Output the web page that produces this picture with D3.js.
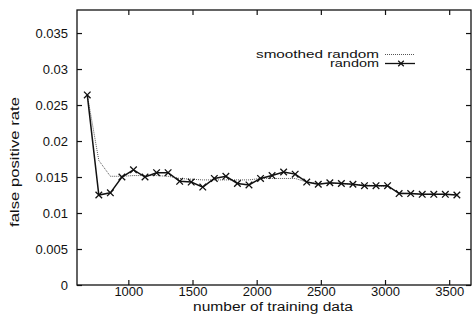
<!DOCTYPE html>
<html>
<head>
<meta charset="utf-8">
<script src="https://cdn.jsdelivr.net/npm/d3@7"></script>
<style>
    body { margin: 0; background: #fff; }
    text { font-family: "Liberation Sans", Arial, sans-serif; fill: #111; }
</style>
</head>
<body>
<div id="center" style="width:472px;height:332px"></div>
<script>
// training sizes (step of 90)
let sizes = [680, 770, 860, 950, 1040, 1130, 1220, 1310, 1400, 1490, 1580,
    1670, 1760, 1850, 1940, 2030, 2120, 2210, 2300, 2390, 2480, 2570,
    2660, 2750, 2840, 2930, 3020, 3110, 3200, 3290, 3380, 3470, 3560];
let randomRate = [0.0264, 0.0125, 0.0128, 0.0150, 0.0160, 0.0150, 0.0156, 0.0156,
    0.0144, 0.0143, 0.0136, 0.0148, 0.0151, 0.0141, 0.0139, 0.0148, 0.0152,
    0.0157, 0.0154, 0.0143, 0.0140, 0.0142, 0.0141, 0.0140, 0.0138, 0.0138,
    0.0138, 0.0127, 0.0127, 0.0126, 0.0126, 0.0126, 0.0125];
let smoothedRate = [0.0264, 0.0173, 0.0151, 0.0151, 0.0152, 0.0152, 0.0152, 0.0151,
    0.0148, 0.0147, 0.0146, 0.0146, 0.0146, 0.0146, 0.0146, 0.0148, 0.0148,
    0.0148, 0.0148, 0.0143, 0.0141, 0.0141, 0.0141, 0.0140, 0.0139, 0.0138,
    0.0137, 0.0128, 0.0127, 0.0126, 0.0126, 0.0126, 0.0125];
let xTicks = [1000, 1500, 2000, 2500, 3000, 3500];
let yTicks = [0, 0.005, 0.01, 0.015, 0.02, 0.025, 0.03, 0.035];
let yTickLabels = ["0", "0.005", "0.01", "0.015", "0.02", "0.025", "0.03", "0.035"];
let legendNames = ["smoothed random", "random"];

let width = 472, height = 332;
let mLeft = 77, mRight = 471, mTop = 10, mBottom = 285;

const svg = d3.select("#center").append("svg")
    .attr("width", width)
    .attr("height", height)

let x = d3.scaleLinear().domain([600, 3670]).range([mLeft, mRight]);
let y = d3.scaleLinear().domain([0, 0.0382]).range([mBottom, mTop]);

// inward ticks on all four sides, like gnuplot
let axisB = d3.axisBottom(x).tickValues(xTicks).tickSize(-5).tickPadding(2).tickFormat(d3.format("d"));
let axisT = d3.axisTop(x).tickValues(xTicks).tickSize(-5).tickFormat("");
let axisL = d3.axisLeft(y).tickValues(yTicks).tickSize(-5).tickPadding(9)
    .tickFormat(function (d, i) { return yTickLabels[i]; });
let axisR = d3.axisRight(y).tickValues(yTicks).tickSize(-5).tickFormat("");

function styleAxis(g) {
    g.select(".domain").remove();
    g.selectAll(".tick line").attr("stroke", "#111").attr("stroke-width", 1.2);
    g.selectAll(".tick text").style("font-size", "13px").attr("fill", "#111");
}

svg.append("g").attr("transform", "translate(0," + mBottom + ")").call(axisB).call(styleAxis);
svg.append("g").attr("transform", "translate(0," + mTop + ")").call(axisT).call(styleAxis);
svg.append("g").attr("transform", "translate(" + mLeft + ",0)").call(axisL).call(styleAxis);
svg.append("g").attr("transform", "translate(" + mRight + ",0)").call(axisR).call(styleAxis);

svg.append("rect")
    .attr("x", mLeft).attr("y", mTop)
    .attr("width", mRight - mLeft).attr("height", mBottom - mTop)
    .attr("fill", "none").attr("stroke", "#111").attr("stroke-width", 1.3);

// axis titles (the scan's lettering is a little wide, so stretch to its length)
svg.append("text")
    .attr("x", (mLeft + mRight) / 2 - 1).attr("y", 311)
    .attr("text-anchor", "middle")
    .attr("textLength", 160)
    .attr("lengthAdjust", "spacingAndGlyphs")
    .style("font-size", "12.5px")
    .text("number of training data");
svg.append("text")
    .attr("transform", "translate(19,162) rotate(-90)")
    .attr("text-anchor", "middle")
    .attr("textLength", 130)
    .attr("lengthAdjust", "spacingAndGlyphs")
    .style("font-size", "13px")
    .text("false positive rate");

let line = d3.line()
    .x(function (d) { return x(d[0]); })
    .y(function (d) { return y(d[1]); });

let smoothData = sizes.map(function (s, i) { return [s, smoothedRate[i]]; });
let randData = sizes.map(function (s, i) { return [s, randomRate[i]]; });

svg.append("path")
    .attr("d", line(smoothData))
    .attr("fill", "none")
    .attr("stroke", "#555")
    .attr("stroke-width", 1)
    .attr("stroke-dasharray", "1,1");

svg.append("path")
    .attr("d", line(randData))
    .attr("fill", "none")
    .attr("stroke", "#111")
    .attr("stroke-width", 1.5);

let cross = d3.symbol().type(d3.symbolX).size(30);
svg.selectAll(".pt")
    .data(randData)
    .enter()
    .append("path")
    .attr("class", "pt")
    .attr("transform", function (d) { return "translate(" + x(d[0]) + "," + y(d[1]) + ")"; })
    .attr("d", cross)
    .attr("fill", "none")
    .attr("stroke", "#111")
    .attr("stroke-width", 1.3);

// legend
let legendWidths = [123, 49];
let legend = svg.append("g");
legend.selectAll("text")
    .data(legendNames)
    .enter()
    .append("text")
    .attr("x", 379)
    .attr("y", function (d, i) { return 58 + i * 9; })
    .attr("text-anchor", "end")
    .attr("textLength", function (d, i) { return legendWidths[i]; })
    .attr("lengthAdjust", "spacingAndGlyphs")
    .style("font-size", "11px")
    .text(function (d) { return d; });
legend.append("line")
    .attr("x1", 385).attr("x2", 415).attr("y1", 54.5).attr("y2", 54.5)
    .attr("stroke", "#555").attr("stroke-width", 1).attr("stroke-dasharray", "1,1");
legend.append("line")
    .attr("x1", 385).attr("x2", 415).attr("y1", 63.5).attr("y2", 63.5)
    .attr("stroke", "#111").attr("stroke-width", 1.3);
legend.append("path")
    .attr("transform", "translate(401,63.5)")
    .attr("d", d3.symbol().type(d3.symbolX).size(22))
    .attr("fill", "none").attr("stroke", "#111").attr("stroke-width", 1.2);
</script>
</body>
</html>
